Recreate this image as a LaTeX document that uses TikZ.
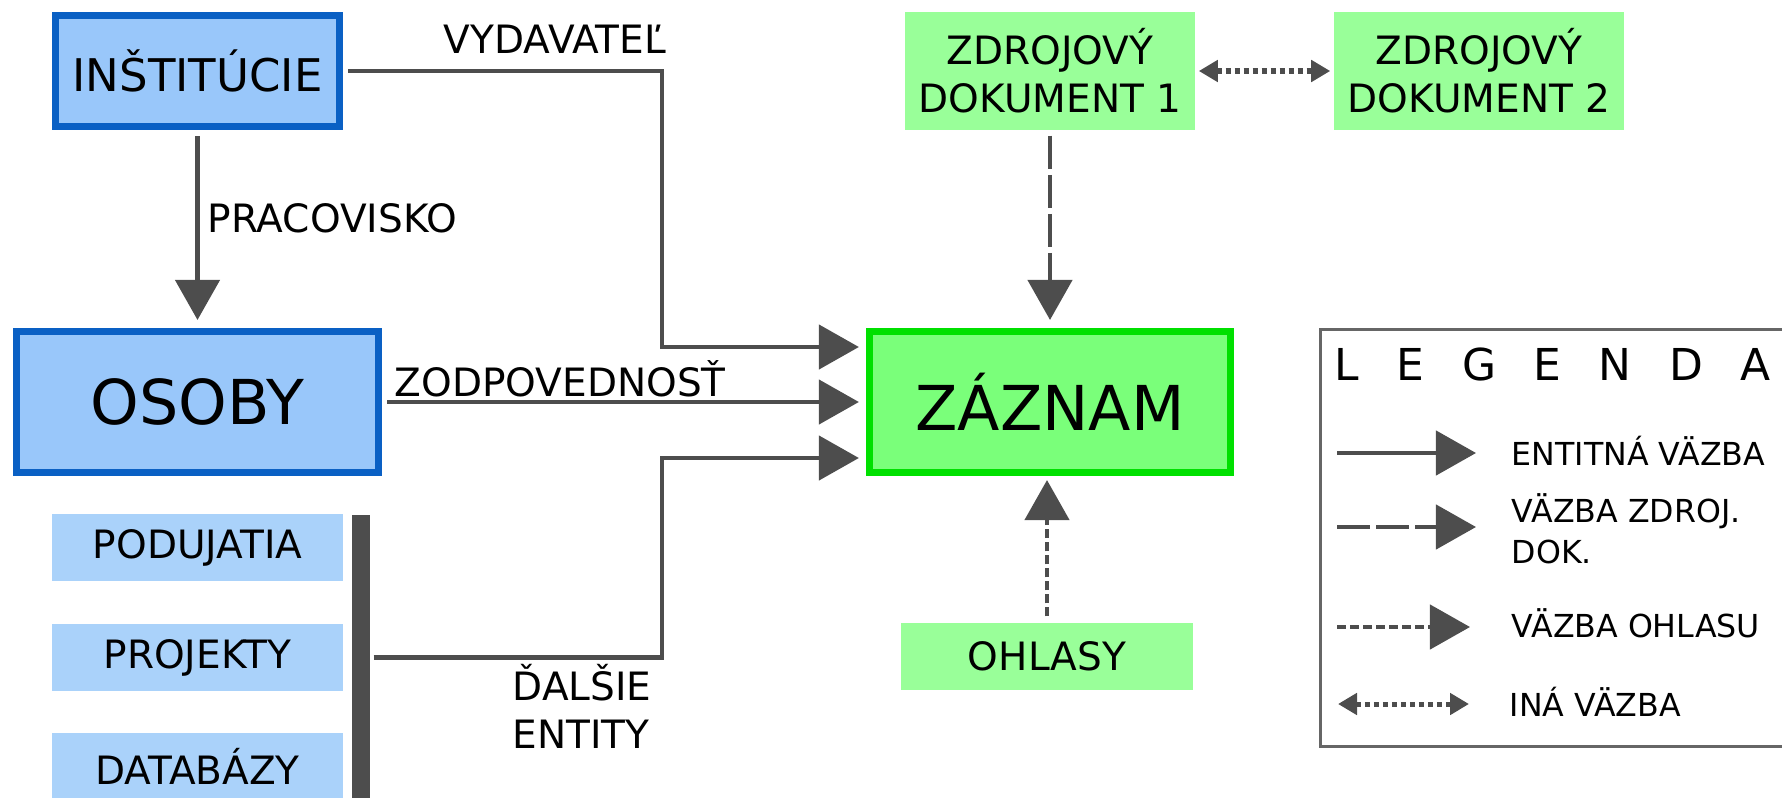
\documentclass[tikz,border=0pt]{standalone}
\usepackage{fontspec}
\setmainfont{DejaVu Sans}
\usetikzlibrary{arrows.meta,calc}
\definecolor{instblue}{RGB}{10,96,196}
\definecolor{instfill}{RGB}{153,199,250}
\definecolor{entfill}{RGB}{170,210,250}
\definecolor{zazgreen}{RGB}{0,224,0}
\definecolor{zazfill}{RGB}{122,255,122}
\definecolor{dokfill}{RGB}{153,255,153}
\definecolor{arrgray}{RGB}{77,77,77}
\definecolor{leggray}{RGB}{102,102,102}
\newcommand\txt{\fontsize{11.1}{13.6}\selectfont}
\newcommand\velky{\fontsize{17.6}{21}\selectfont}
\newcommand\legtxt{\fontsize{9}{11.4}\selectfont}
\begin{document}
\begin{tikzpicture}[x=0.01cm, y=-0.01cm,
	modry/.style={draw=instblue, line width=0.07cm, fill=instfill, inner sep=0pt},
	zeleny/.style={draw=zazgreen, line width=0.07cm, fill=zazfill, inner sep=0pt},
	entbox/.style={fill=entfill, inner sep=0pt, minimum width=2.91cm, minimum height=0.67cm, font=\txt},
	dokbox/.style={fill=dokfill, inner sep=0pt, font=\txt, align=center},
	conn/.style={draw=arrgray, line width=0.045cm, -{Triangle[length=0.4cm,width=0.44cm]}},
	entita/.style={conn, shorten <=0.05cm, shorten >=0.07cm},
	zdroj/.style={conn, dash pattern=on 0.33cm off 0.06cm},
	ohlas/.style={conn, dash pattern=on 0.09cm off 0.04cm},
	ina/.style={draw=arrgray, line width=0.05cm, dash pattern=on 0.05cm off 0.04cm,
		{Triangle[length=0.19cm,width=0.21cm]}-{Triangle[length=0.19cm,width=0.21cm]}},
	lbl/.style={font=\txt, inner sep=0pt},
	legtext/.style={font=\legtxt, inner sep=0pt, anchor=base west, align=left}]
	\useasboundingbox (0,0) rectangle (1782,797);
	% entity
	\node[modry, minimum width=2.84cm, minimum height=1.11cm, font=\fontsize{12.8}{15}\selectfont] (inst) at (197.5,71) {INŠTITÚCIE};
	\node[modry, minimum width=3.62cm, minimum height=1.41cm, font=\velky] (osoby) at (197.5,402) {OSOBY};
	\node[entbox] (podu) at (197.5,547.5) {PODUJATIA};
	\node[entbox] (proj) at (197.5,657.5) {PROJEKTY};
	\node[entbox] (datab) at (197.5,766.5) {DATABÁZY};
	\node[fill=arrgray, inner sep=0pt, minimum width=0.18cm, minimum height=3.2cm, anchor=north] (lista) at (361,514) {};
	% zaznam a dokumenty
	\node[zeleny, minimum width=3.61cm, minimum height=1.41cm, font=\velky] (zaznam) at (1050,402) {ZÁZNAM};
	\node[dokbox, minimum width=2.9cm, minimum height=1.18cm] (dok1) at (1050,71) {ZDROJOVÝ\\DOKUMENT 1};
	\node[dokbox, minimum width=2.9cm, minimum height=1.18cm] (dok2) at (1479,71) {ZDROJOVÝ\\DOKUMENT 2};
	\node[dokbox, minimum width=2.91cm, minimum height=0.67cm] (ohlasy) at (1047,656.5) {OHLASY};
	\coordinate (kx) at (662,0);
	\coordinate (zin1) at ($(zaznam.west)+(0,-55)$);
	\coordinate (zin3) at ($(zaznam.west)+(0,56)$);
	% vazby
	\draw[entita, shorten <=0.06cm, shorten >=0.08cm] (inst) -- (osoby);
	\draw[entita] (inst.east) -| (kx |- zin1) -- (zin1);
	\draw[entita] (osoby.east) -- (zaznam.west);
	\draw[entita, shorten <=0.03cm] (lista.east |- proj) -| (kx |- zin3) -- (zin3);
	\draw[zdroj, shorten <=0.05cm, shorten >=0.08cm] (dok1) -- (zaznam);
	\draw[ohlas, shorten <=0.06cm, shorten >=0.04cm] (ohlasy.north) -- (ohlasy.north |- zaznam.south);
	\draw[ina, shorten <=0.03cm, shorten >=0.03cm] (dok1) -- (dok2);
	\node[lbl, anchor=base] (vydav) at (555,53) {VYDAVATEĽ};
	\node[lbl, anchor=base west] (prac) at (207,232) {PRACOVISKO};
	\node[lbl, anchor=base west] (zodp) at (394,396) {ZODPOVEDNOSŤ};
	\node[lbl, anchor=base west, align=left, font=\fontsize{11.1}{13.5}\selectfont] (dalsie) at (512,748) {ĎALŠIE\\ENTITY};
	% legenda
	\draw[leggray, line width=0.03cm] (1320.5,329.5) rectangle (1800,746.5);
	\node[inner sep=0pt, anchor=base west, font={\fontsize{12.5}{15}\selectfont\spaceskip=0.375cm\relax}] (legtitul) at (1334,380) {L E G E N D A};
	\coordinate (l1a) at (1337,453); \coordinate (l1b) at (1476,453);
	\coordinate (l2a) at (1337,527); \coordinate (l2b) at (1476,527);
	\coordinate (l3a) at (1337,627); \coordinate (l3b) at (1470,627);
	\coordinate (l4a) at (1338,704); \coordinate (l4b) at (1469,704);
	\draw[conn] (l1a) -- (l1b);
	\draw[zdroj] (l2a) -- (l2b);
	\draw[ohlas] (l3a) -- (l3b);
	\draw[ina] (l4a) -- (l4b);
	\node[legtext] (leg1) at (1511,465) {ENTITNÁ VÄZBA};
	\node[legtext] (leg2) at (1511,563) {VÄZBA ZDROJ.\\DOK.};
	\node[legtext] (leg3) at (1511,637) {VÄZBA OHLASU};
	\node[legtext] (leg4) at (1509,716) {INÁ VÄZBA};
\end{tikzpicture}
\end{document}
